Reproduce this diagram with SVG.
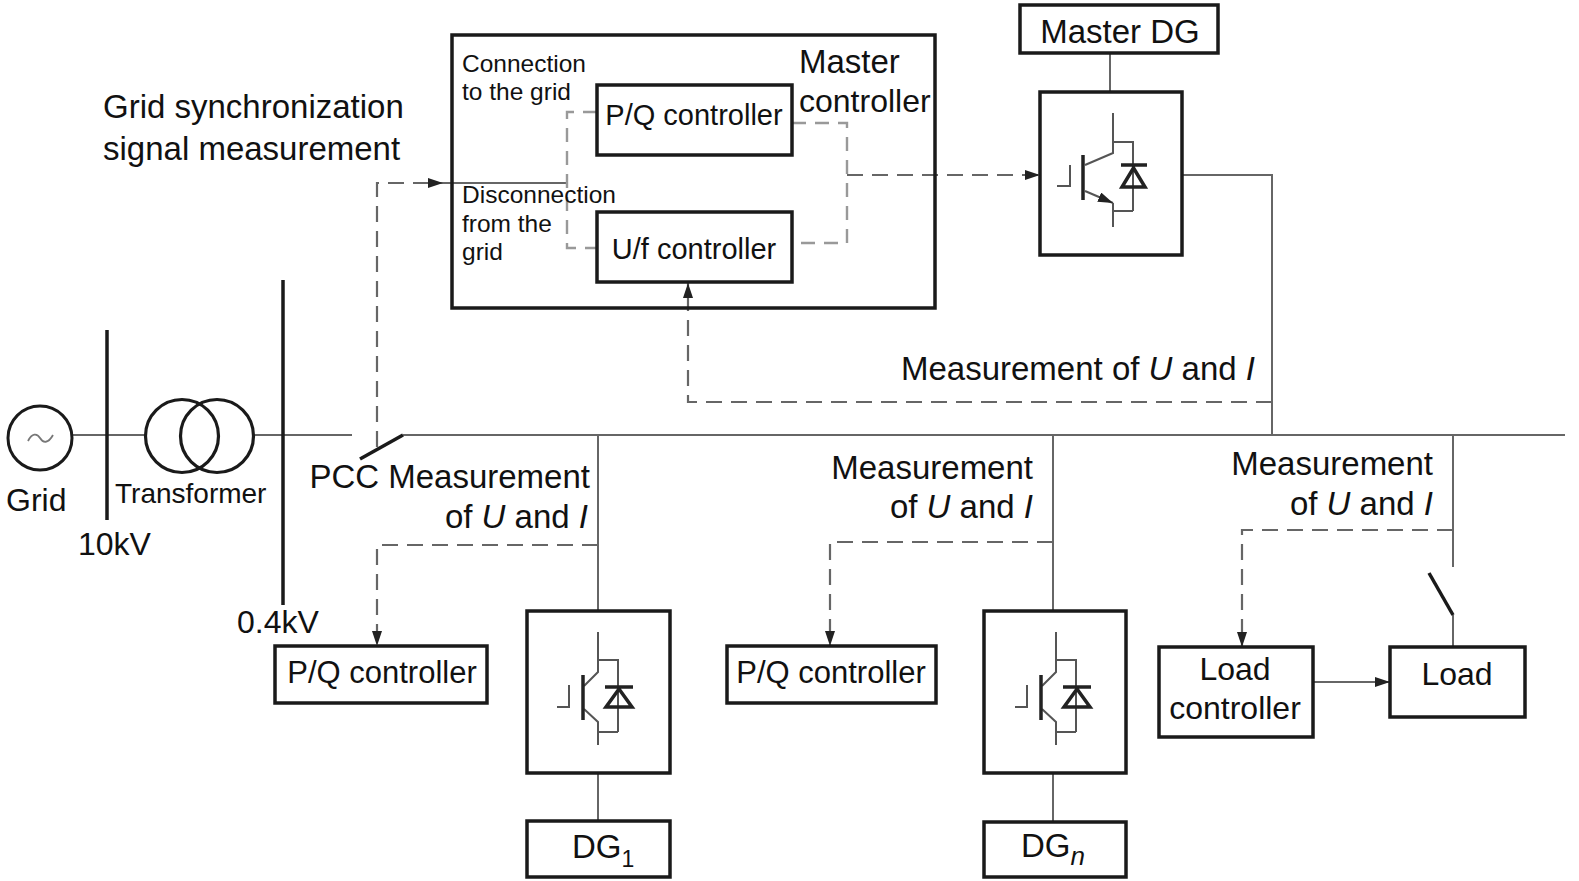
<svg xmlns="http://www.w3.org/2000/svg" width="1579" height="881" viewBox="0 0 1579 881">
<style>
  text { font-family: "Liberation Sans", Arial, sans-serif; fill: #111; }
  .t33 { font-size: 33px; }
  .t32 { font-size: 32px; }
  .t31 { font-size: 31px; }
  .t29 { font-size: 29px; }
  .t28 { font-size: 28px; }
  .t24 { font-size: 24.5px; }
  .box { fill: #fff; stroke: #1a1a1a; stroke-width: 3.5; }
  .frame { fill: none; stroke: #1a1a1a; stroke-width: 3.5; }
  .bar { fill: none; stroke: #1a1a1a; stroke-width: 3.5; }
  .wire { fill: none; stroke: #666; stroke-width: 2; }
  .dash { fill: none; stroke: #666; stroke-width: 2.2; stroke-dasharray: 16 9; }
  .dashl { fill: none; stroke: #999; stroke-width: 2.4; stroke-dasharray: 14 9; }
  .sym { fill: none; stroke: #555; stroke-width: 2; }
  .symb { fill: none; stroke: #222; stroke-width: 3.5; }
  .it { font-style: italic; }
</style>
<defs>
  <marker id="arr" markerUnits="userSpaceOnUse" markerWidth="16" markerHeight="10" refX="15" refY="5" orient="auto">
    <path d="M0,0 L15,5 L0,10 Z" fill="#222"/>
  </marker>
  <g id="igbt">
    <path class="sym" d="M0,-60 V-20 L-14,-6 M0,-32 H20 V40 M-14,17 L0,30 V53 M0,40 H20 M-29,-7 V15 H-41"/>
    <path class="symb" d="M-15,-17 V28"/>
    <path class="symb" d="M7,-5 H35 M8,15 H34 L21,-3 Z" stroke-width="3"/>
  </g>
</defs>
<rect width="1579" height="881" fill="#fff"/>

<g id="connectors">
  <path class="wire" d="M72,435 H145 M253,435 H352 M403,435 H1565"/>
  <path class="bar" d="M360,459 L403,435" stroke-width="3"/>
  <path class="bar" d="M107,330 V520"/>
  <path class="bar" d="M283,280 V605"/>
  <path class="dash" d="M377,447 V183 H443" marker-end="url(#arr)"/>
  <path class="wire" d="M443,183 H567"/>
  <path class="dashl" d="M597,112 H567 V248 H597"/>
  <path class="dashl" d="M792,123 H847 V243 H792"/>
  <path class="dash" d="M847,175 H1040" marker-end="url(#arr)"/>
  <path class="wire" d="M1110,53 V92"/>
  <path class="wire" d="M1182,175 H1272 V435"/>
  <path class="dash" d="M1272,402 H688 V283" marker-end="url(#arr)"/>
  <path class="wire" d="M598,435 V611 M598,773 V821"/>
  <path class="dash" d="M598,545 H377 V646" marker-end="url(#arr)"/>
  <path class="wire" d="M1053,435 V611 M1053,773 V822"/>
  <path class="dash" d="M1053,542 H830 V646" marker-end="url(#arr)"/>
  <path class="wire" d="M1453,435 V567 M1453,615 V647"/>
  <path class="bar" d="M1429,573 L1453,615" stroke-width="3"/>
  <path class="dash" d="M1453,530 H1242 V647" marker-end="url(#arr)"/>
  <path class="wire" d="M1313,682 H1390" stroke="#333" marker-end="url(#arr)"/>
</g>

<g id="grid">
  <circle cx="40" cy="438" r="32" fill="#fff" stroke="#1a1a1a" stroke-width="3"/>
  <path d="M28,441 C32,433 37,433 40,438 S48,444 53,435" fill="none" stroke="#777" stroke-width="1.8"/>
  <text class="t32" x="6" y="511">Grid</text>
</g>
<g id="bus-10kv">
  <text class="t32" x="78" y="555">10kV</text>
</g>
<g id="transformer">
  <circle cx="182" cy="436" r="36.5" fill="none" stroke="#1a1a1a" stroke-width="3.2"/>
  <circle cx="217" cy="436" r="36.5" fill="none" stroke="#1a1a1a" stroke-width="3.2"/>
  <text class="t28" x="115" y="503">Transformer</text>
</g>
<g id="bus-04kv">
  <text class="t32" x="237" y="633">0.4kV</text>
</g>
<g id="sync-label">
  <text class="t33" x="103" y="118">Grid synchronization</text>
  <text class="t33" x="103" y="160">signal measurement</text>
</g>
<g id="pcc">
  <text class="t33" x="590" y="488" text-anchor="end">PCC Measurement</text>
  <text class="t33" x="588" y="528" text-anchor="end">of <tspan class="it">U</tspan> and <tspan class="it">I</tspan></text>
</g>

<g id="master-controller">
  <rect class="frame" x="452" y="35" width="483" height="273"/>
  <text class="t24" x="462" y="72">Connection</text>
  <text class="t24" x="462" y="100">to the grid</text>
  <text class="t24" x="462" y="203">Disconnection</text>
  <text class="t24" x="462" y="232">from the</text>
  <text class="t24" x="462" y="260">grid</text>
  <text class="t33" x="799" y="73">Master</text>
  <text class="t32" x="799" y="112">controller</text>
</g>
<g id="pq-master">
  <rect class="box" x="597" y="85" width="195" height="70"/>
  <text class="t29" x="694" y="125" text-anchor="middle">P/Q controller</text>
</g>
<g id="uf-master">
  <rect class="box" x="597" y="212" width="195" height="70"/>
  <text class="t29" x="694" y="259" text-anchor="middle">U/f controller</text>
</g>

<g id="master-dg">
  <rect class="box" x="1020" y="5" width="198" height="48"/>
  <text class="t33" x="1120" y="43" text-anchor="middle">Master DG</text>
</g>
<g id="master-inverter">
  <rect class="box" x="1040" y="92" width="142" height="163"/>
  <path class="sym" d="M1113,113 V153 L1085,165 M1113,142 H1133 V211 M1113,203 V227 M1113,211 H1133 M1070,165 V186 H1057"/>
  <path class="sym" d="M1085,191 L1113,203" marker-end="url(#arr)"/>
  <path class="symb" d="M1083,155 V200"/>
  <path class="symb" d="M1121,165 H1147 M1122,187 H1145 L1133.5,168 Z" stroke-width="3"/>
</g>

<g id="measurement-master">
  <text class="t33" x="1255" y="380" text-anchor="end">Measurement of <tspan class="it">U</tspan> and <tspan class="it">I</tspan></text>
</g>

<g id="pq-1">
  <rect class="box" x="275" y="646" width="212" height="57"/>
  <text class="t31" x="382" y="683" text-anchor="middle">P/Q controller</text>
</g>
<g id="inverter-1">
  <rect class="box" x="527" y="611" width="143" height="162"/>
  <use href="#igbt" x="598" y="692"/>
</g>
<g id="dg-1">
  <rect class="box" x="527" y="821" width="143" height="56"/>
  <text class="t33" x="572" y="858">DG<tspan font-size="23" dy="9">1</tspan></text>
</g>

<g id="measurement-n">
  <text class="t33" x="1033" y="479" text-anchor="end">Measurement</text>
  <text class="t33" x="1033" y="518" text-anchor="end">of <tspan class="it">U</tspan> and <tspan class="it">I</tspan></text>
</g>
<g id="pq-n">
  <rect class="box" x="727" y="646" width="209" height="57"/>
  <text class="t31" x="831" y="683" text-anchor="middle">P/Q controller</text>
</g>
<g id="inverter-n">
  <rect class="box" x="984" y="611" width="142" height="162"/>
  <use href="#igbt" x="1056" y="692"/>
</g>
<g id="dg-n">
  <rect class="box" x="984" y="822" width="142" height="55"/>
  <text class="t33" x="1021" y="857">DG<tspan class="it" font-size="26" dy="8">n</tspan></text>
</g>

<g id="measurement-load">
  <text class="t33" x="1433" y="475" text-anchor="end">Measurement</text>
  <text class="t33" x="1433" y="515" text-anchor="end">of <tspan class="it">U</tspan> and <tspan class="it">I</tspan></text>
</g>
<g id="load-controller">
  <rect class="box" x="1159" y="647" width="154" height="90"/>
  <text class="t32" x="1235" y="680" text-anchor="middle">Load</text>
  <text class="t32" x="1235" y="719" text-anchor="middle">controller</text>
</g>
<g id="load">
  <rect class="box" x="1390" y="647" width="135" height="70"/>
  <text class="t32" x="1457" y="685" text-anchor="middle">Load</text>
</g>
</svg>
